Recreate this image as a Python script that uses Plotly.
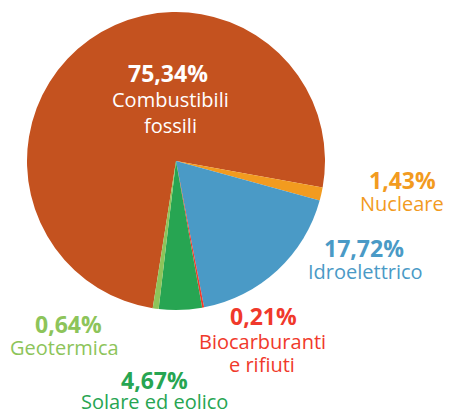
import plotly.graph_objects as go

categories = ["Combustibili fossili", "Nucleare", "Idroelettrico",
              "Biocarburanti e rifiuti", "Solare ed eolico", "Geotermica"]
values = [75.34, 1.43, 17.72, 0.21, 4.67, 0.64]
colors = ["#C4521F", "#F29B1F", "#4A9AC6", "#F0392B", "#27A552", "#8DC45A"]
pct_labels = ["75,34%", "1,43%", "17,72%", "0,21%", "4,67%", "0,64%"]
name_lines = [["Combustibili", "fossili"], ["Nucleare"], ["Idroelettrico"],
              ["Biocarburanti", "e rifiuti"], ["Solare ed eolico"], ["Geotermica"]]

W, H = 449, 410
cx, cy, r = 176, 161, 149

# layout: (pct x, pct y), (name x, [name line ys]) in pixels
pct_pos = [(168, 73), (402, 180), (364, 248), (263, 316), (154, 380), (68, 324)]
name_pos = [(170, [99, 125]), (402, [203]), (365, [271]), (262, [341, 364]),
            (154, [401]), (64, [347])]
text_colors = ["white"] + colors[1:]
FONT = "Open Sans"

fig = go.Figure(go.Pie(
    labels=categories, values=values, sort=False, direction="clockwise",
    rotation=189, marker=dict(colors=colors, line=dict(width=0)),
    textinfo="none", hoverinfo="label+percent", showlegend=False,
    domain=dict(x=[(cx - r) / W, (cx + r) / W], y=[1 - (cy + r) / H, 1 - (cy - r) / H]),
))

ann = []
for i in range(len(categories)):
    px, py = pct_pos[i]
    ann.append(dict(x=px / W, y=1 - py / H, xref="paper", yref="paper", showarrow=False,
                    xanchor="center", yanchor="middle", borderpad=0,
                    text="<b>" + pct_labels[i] + "</b>",
                    font=dict(family=FONT, size=23, color=text_colors[i])))
    nx, nys = name_pos[i]
    for line, ly in zip(name_lines[i], nys):
        ann.append(dict(x=nx / W, y=1 - ly / H, xref="paper", yref="paper", showarrow=False,
                        xanchor="center", yanchor="middle", borderpad=0,
                        text=line, font=dict(family=FONT, size=20, color=text_colors[i])))

fig.update_layout(width=W, height=H, margin=dict(l=0, r=0, t=0, b=0),
                  paper_bgcolor="white", plot_bgcolor="white", annotations=ann)
fig.write_html("out.html", config={"displayModeBar": False},
               post_script="document.body.style.margin='0px';document.body.style.overflow='hidden';")
